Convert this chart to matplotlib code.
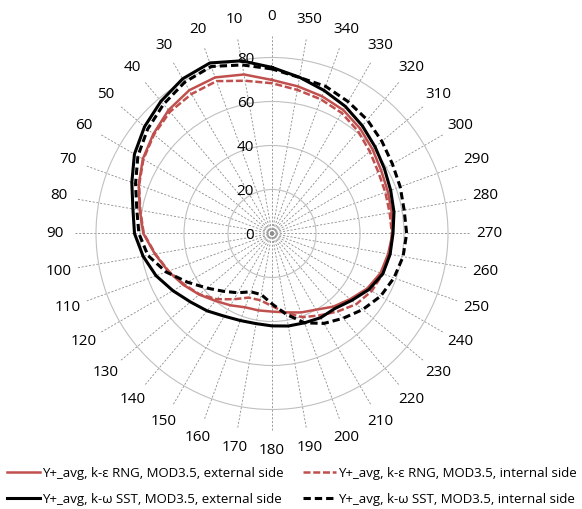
import matplotlib
matplotlib.use("Agg")
import matplotlib.pyplot as plt
from matplotlib.lines import Line2D
from matplotlib.transforms import offset_copy
import numpy as np

# angles in degrees, 0 at top, counter-clockwise
angles = list(range(0, 360, 10))

# Y+_avg, k-eps RNG, MOD3.5, external side
keps_ext = [69.8, 73.4, 75.5, 75.2, 73.2, 70.4, 67.8, 64.5, 61.0, 58.5,
            54.0, 50.2, 46.6, 43.2, 40.0, 37.7, 35.7, 35.5, 35.5, 36.4,
            38.2, 40.0, 43.4, 46.4, 50.0, 52.5, 53.6, 54.8, 55.3, 56.0,
            57.3, 59.6, 62.3, 64.8, 66.4, 67.9]
# Y+_avg, k-eps RNG, MOD3.5, internal side
keps_int = [68.3, 70.5, 73.7, 73.2, 72.2, 70.0, 67.5, 64.3, 60.8, 58.3,
            53.8, 50.0, 46.2, 43.0, 39.0, 34.5, 31.0, 30.8, 33.0, 36.6,
            40.5, 43.0, 46.3, 50.0, 52.3, 53.6, 54.5, 54.5, 54.3, 54.8,
            55.8, 58.0, 60.8, 63.3, 64.9, 66.3]
# Y+_avg, k-omega SST, MOD3.5, external side
ksst_ext = [75.5, 79.7, 82.5, 81.2, 78.5, 75.6, 72.2, 67.8, 64.2, 62.5,
            59.5, 56.1, 52.0, 48.4, 45.9, 43.4, 42.1, 41.6, 42.0, 42.7,
            43.2, 44.2, 44.5, 47.3, 50.9, 53.6, 54.5, 55.0, 56.3, 57.4,
            59.0, 61.2, 63.9, 66.7, 69.2, 72.1]
# Y+_avg, k-omega SST, MOD3.5, internal side
ksst_int = [74.8, 77.8, 80.8, 79.4, 76.7, 73.8, 70.4, 66.0, 62.4, 60.5,
            57.3, 51.2, 44.3, 38.6, 34.3, 31.1, 28.2, 28.2, 32.0, 37.3,
            43.2, 47.2, 50.3, 53.8, 57.0, 59.0, 60.5, 61.2, 61.0, 62.0,
            63.2, 65.2, 67.4, 69.2, 71.2, 72.0]

radial_ticks = [0, 20, 40, 60, 80]
labels = ["Y+_avg, k-ε RNG, MOD3.5, external side",
          "Y+_avg, k-ε RNG, MOD3.5, internal side",
          "Y+_avg, k-ω SST, MOD3.5, external side",
          "Y+_avg, k-ω SST, MOD3.5, internal side"]

red = '#C0504D'
font = 'Open Sans'
plt.rcParams['font.family'] = [font, 'DejaVu Sans']

fig = plt.figure(figsize=(5.82, 5.09), dpi=100)
ax = fig.add_axes([0.12715, 0.15226, 0.68041, 0.778], projection='polar')
ax.set_theta_zero_location('N')
ax.set_theta_direction(1)
ax.set_ylim(0, 90)

ax.set_thetagrids(angles, labels=[''] * len(angles))
ax.set_rgrids([20, 40, 60, 80], labels=[''] * 4)
ax.xaxis.grid(True, color='#8c8c8c', lw=0.6, ls=(0, (2.5, 2)))
ax.yaxis.grid(True, color='#c0c0c0', lw=0.8, ls='-')
ax.spines['polar'].set_visible(False)
ax.tick_params(length=0)


def closed(vals):
    th = np.deg2rad(angles + [angles[0]])
    return th, list(vals) + [vals[0]]


series = [(keps_ext, red, 1.8, '-'),
          (keps_int, red, 1.8, (0, (2.8, 1.1))),
          (ksst_ext, 'black', 2.2, '-'),
          (ksst_int, 'black', 2.2, (0, (2.4, 1.3)))]
handles = []
for vals, col, lw, ls in series:
    th, r = closed(vals)
    ax.plot(th, r, color=col, lw=lw, ls=ls, clip_on=False, zorder=3)
    handles.append(Line2D([], [], color=col, lw=lw, ls=ls))

# angle labels
for a in angles:
    ax.text(np.deg2rad(a), 98.6, str(a), ha='center', va='center',
            fontsize=11, clip_on=False)

# radial labels along the 0 spoke
tr = offset_copy(ax.transData, fig=fig, x=-18, y=-2, units='dots')
for r in radial_ticks:
    ax.text(0, r, str(r), transform=tr, ha='right', va='center',
            fontsize=11)

order = [0, 2, 1, 3]
fig.legend([handles[i] for i in order], [labels[i] for i in order],
           ncol=2, loc='upper left', frameon=False,
           bbox_to_anchor=(7 / 582, 1 - 467 / 509),
           fontsize=9.5, handlelength=2.5, handletextpad=0.15,
           columnspacing=1.45, labelspacing=0.98,
           borderpad=0, borderaxespad=0)

fig.savefig('out.png', dpi=100)
